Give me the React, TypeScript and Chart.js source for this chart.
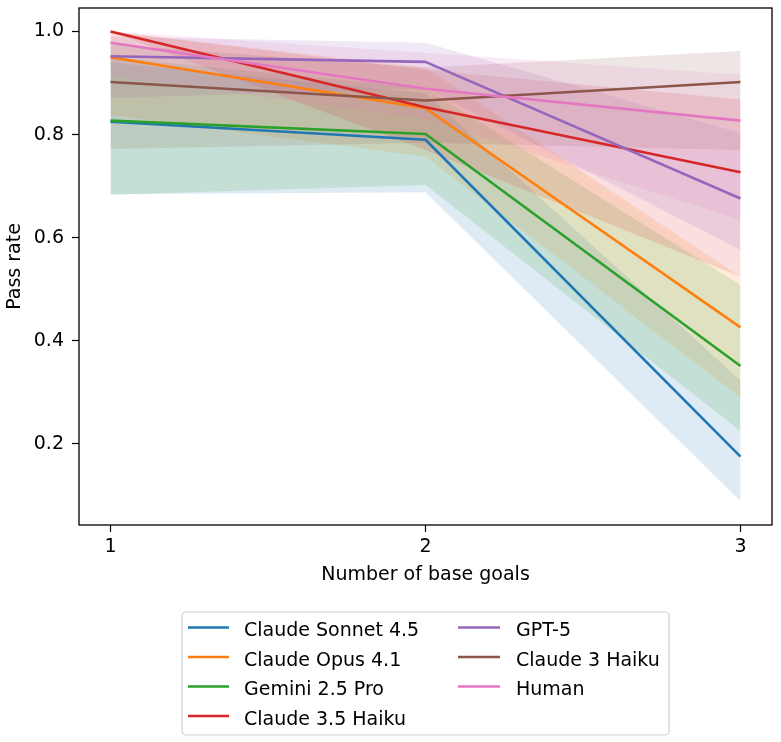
import { useEffect, useRef } from "react";
import { Chart, registerables } from "chart.js";

Chart.register(...registerables);

// Number of base goals on the x axis
const goalCounts = [1, 2, 3];
const yTicks = [0.2, 0.4, 0.6, 0.8, 1.0];

const models = [
  "Claude Sonnet 4.5",
  "Claude Opus 4.1",
  "Gemini 2.5 Pro",
  "Claude 3.5 Haiku",
  "GPT-5",
  "Claude 3 Haiku",
  "Human",
];
const colors = ["#1f77b4", "#ff7f0e", "#2ca02c", "#d62728", "#9467bd", "#8c564b", "#e377c2"];

// Mean pass rate per model, with the 95% interval below and above
const sonnet45 = [0.825, 0.79, 0.175];
const sonnet45Low = [0.684, 0.688, 0.089];
const sonnet45High = [0.94, 0.88, 0.323];

const opus41 = [0.95, 0.851, 0.426];
const opus41Low = [0.838, 0.757, 0.29];
const opus41High = [1.0, 0.93, 0.524];

const gemini25Pro = [0.827, 0.801, 0.351];
const gemini25ProLow = [0.683, 0.702, 0.225];
const gemini25ProHigh = [0.95, 0.89, 0.508];

const haiku35 = [1.0, 0.853, 0.727];
const haiku35Low = [1.0, 0.77, 0.524];
const haiku35High = [1.0, 0.926, 0.868];

const gpt5 = [0.952, 0.941, 0.676];
const gpt5Low = [0.871, 0.89, 0.576];
const gpt5High = [0.99, 0.978, 0.803];

const haiku3 = [0.902, 0.866, 0.902];
const haiku3Low = [0.772, 0.784, 0.77];
const haiku3High = [0.975, 0.93, 0.962];

const human = [0.978, 0.889, 0.827];
const humanLow = [0.914, 0.83, 0.634];
const humanHigh = [1.0, 0.959, 0.916];

const means = [sonnet45, opus41, gemini25Pro, haiku35, gpt5, haiku3, human];
const lows = [sonnet45Low, opus41Low, gemini25ProLow, haiku35Low, gpt5Low, haiku3Low, humanLow];
const highs = [sonnet45High, opus41High, gemini25ProHigh, haiku35High, gpt5High, haiku3High, humanHigh];

const FONT_FAMILY = '"DejaVu Sans", sans-serif';
const FONT_SIZE = 19;
const BAND_ALPHA = 0.15;

function withAlpha(hex: string, a: number) {
  const n = parseInt(hex.slice(1), 16);
  return `rgba(${(n >> 16) & 255}, ${(n >> 8) & 255}, ${n & 255}, ${a})`;
}

const toPoints = (ys: number[]) => goalCounts.map((x, i) => ({ x, y: ys[i] }));

// Draws the surrounding axes box and the two-column legend below the plot
const framePlugin = {
  id: "frameAndLegend",
  afterDraw(chart: any) {
    const { ctx, chartArea } = chart;
    ctx.save();
    ctx.strokeStyle = "#000";
    ctx.lineWidth = 1.3;
    ctx.strokeRect(chartArea.left, chartArea.top, chartArea.right - chartArea.left, chartArea.bottom - chartArea.top);

    // legend box
    const bx = 182, by = 612, bw = 487, bh = 123;
    ctx.beginPath();
    ctx.roundRect(bx, by, bw, bh, 4);
    ctx.fillStyle = "rgba(255,255,255,0.8)";
    ctx.fill();
    ctx.strokeStyle = "#d0d0d0";
    ctx.lineWidth = 1.2;
    ctx.stroke();

    ctx.font = `${FONT_SIZE}px ${FONT_FAMILY}`;
    ctx.textBaseline = "alphabetic";
    ctx.textAlign = "left";
    const rowY = [627.5, 657, 686.5, 716];
    const cols = [
      { h0: 188, h1: 229, tx: 244 },
      { h0: 458, h1: 500, tx: 516 },
    ];
    models.forEach((name, i) => {
      const col = cols[i < 4 ? 0 : 1];
      const y = rowY[i < 4 ? i : i - 4];
      ctx.strokeStyle = colors[i];
      ctx.lineWidth = 2.6;
      ctx.beginPath();
      ctx.moveTo(col.h0, y);
      ctx.lineTo(col.h1, y);
      ctx.stroke();
      ctx.fillStyle = "#000";
      ctx.fillText(name, col.tx, y + 8.5);
    });
    ctx.restore();
  },
};

export default function App() {
  const canvasRef = useRef<HTMLCanvasElement | null>(null);

  useEffect(() => {
    const canvas = canvasRef.current;
    if (!canvas) return;

    const datasets: any[] = [];
    // interval bands: upper edge filled down to the lower edge
    models.forEach((name, i) => {
      const upperIndex = datasets.length;
      datasets.push({
        label: `${name} upper`,
        data: toPoints(highs[i]),
        borderWidth: 0,
        pointRadius: 0,
        backgroundColor: withAlpha(colors[i], BAND_ALPHA),
        fill: upperIndex + 1,
        order: 100 + (models.length - i),
      });
      datasets.push({
        label: `${name} lower`,
        data: toPoints(lows[i]),
        borderWidth: 0,
        pointRadius: 0,
        fill: false,
        order: 100 + (models.length - i),
      });
    });
    // mean lines, later models drawn on top
    models.forEach((name, i) => {
      datasets.push({
        label: name,
        data: toPoints(means[i]),
        borderColor: colors[i],
        borderWidth: 2.6,
        borderJoinStyle: "round",
        pointRadius: 0,
        fill: false,
        tension: 0,
        order: models.length - i,
      });
    });

    const font = { family: FONT_FAMILY, size: FONT_SIZE };

    const chart = new Chart(canvas, {
      type: "line",
      data: { datasets },
      options: {
        animation: false,
        responsive: false,
        devicePixelRatio: 1,
        layout: { padding: { left: 0, right: 9, top: 8, bottom: 147 } },
        plugins: {
          legend: { display: false },
          tooltip: { enabled: false },
          filler: { drawTime: "beforeDatasetsDraw", propagate: false },
        },
        scales: {
          x: {
            type: "linear",
            min: 0.9,
            max: 3.1,
            afterBuildTicks: (s: any) => {
              s.ticks = goalCounts.map((v) => ({ value: v }));
            },
            afterFit: (s: any) => {
              s.height = 70;
              s.paddingLeft = 0;
              s.paddingRight = 0;
            },
            ticks: {
              font,
              color: "#000",
              padding: 4,
              maxRotation: 0,
              autoSkip: false,
              callback: (v: any) => String(v),
            },
            grid: {
              drawOnChartArea: false,
              drawTicks: true,
              tickLength: 7,
              tickColor: "#000",
              tickWidth: 1.2,
            },
            border: { display: false },
            title: {
              display: true,
              text: "Number of base goals",
              font,
              color: "#000",
              padding: { top: 0, bottom: 9 },
            },
          },
          y: {
            type: "linear",
            min: 0.0424,
            max: 1.0456,
            afterBuildTicks: (s: any) => {
              s.ticks = yTicks.map((v) => ({ value: v }));
            },
            afterFit: (s: any) => {
              s.width = 79;
              s.paddingTop = 0;
              s.paddingBottom = 0;
            },
            ticks: {
              font,
              color: "#000",
              padding: 8,
              autoSkip: false,
              callback: (v: any) => Number(v).toFixed(1),
            },
            grid: {
              drawOnChartArea: false,
              drawTicks: true,
              tickLength: 7,
              tickColor: "#000",
              tickWidth: 1.2,
            },
            border: { display: false },
            title: {
              display: true,
              text: "Pass rate",
              font,
              color: "#000",
              padding: { top: 4, bottom: 0 },
            },
          },
        },
      },
      plugins: [framePlugin],
    } as any);

    return () => chart.destroy();
  }, []);

  return (
    <div style={{ position: "fixed", left: 0, top: 0, width: 781, height: 742, background: "#fff" }}>
      <canvas ref={canvasRef} width={781} height={742} style={{ display: "block" }} />
    </div>
  );
}
